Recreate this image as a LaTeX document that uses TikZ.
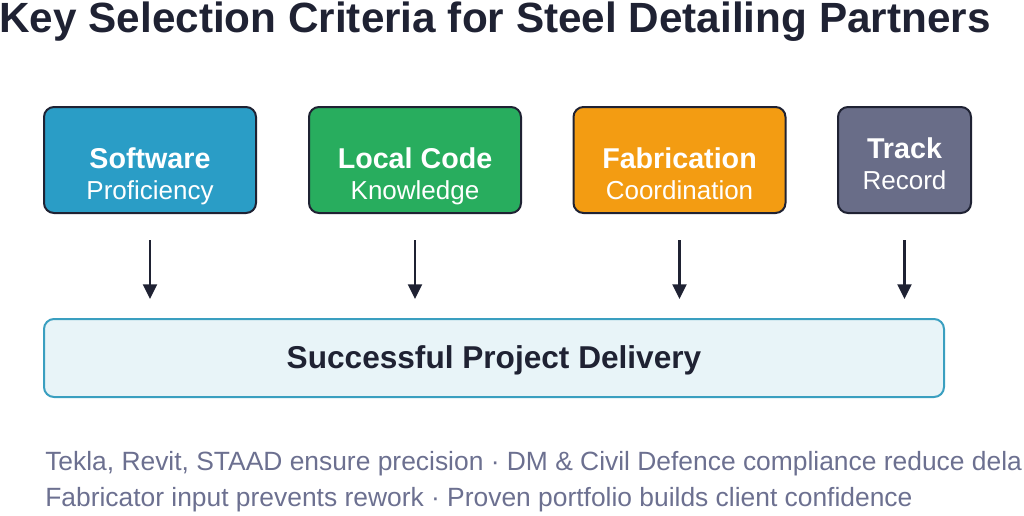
\documentclass[tikz,border=0pt]{standalone}
\usepackage{fontspec}
\setmainfont{Liberation Sans}
\usetikzlibrary{arrows.meta}
\usepackage{xcolor}
\definecolor{softblue}{HTML}{2A9DC6}
\definecolor{codegreen}{HTML}{28AD5E}
\definecolor{fabrorange}{HTML}{F39C12}
\definecolor{trackslate}{HTML}{696D88}
\definecolor{inkdark}{HTML}{1F2233}
\definecolor{delivfill}{HTML}{E8F4F8}
\definecolor{delivline}{HTML}{3A9FC0}
\definecolor{notegray}{HTML}{6C7090}

\begin{document}
\begin{tikzpicture}[x=0.75pt,y=-0.75pt]
  \tikzset{criterion/.style={draw=inkdark,line width=1.5pt,rounded corners=7.5pt,minimum width=159pt,minimum height=79.5pt,inner sep=0pt}}
  \tikzset{headtext/.style={anchor=base,text=white,font=\bfseries\fontsize{21.5}{24}\selectfont}}
  \tikzset{subtext/.style={anchor=base,text=white,font=\fontsize{19.5}{22}\selectfont}}
  \tikzset{flowarrow/.style={draw=inkdark,line width=1.6pt,-{Triangle[length=11pt,width=10.5pt]}}}
  \tikzset{notetext/.style={anchor=base west,text=notegray,font=\fontsize{19.8}{22}\selectfont,inner sep=0pt}}
  \useasboundingbox (0,0) rectangle (1024,515);
  % title
  \node[anchor=base,text=inkdark,font=\bfseries\fontsize{31.7}{36}\selectfont,inner sep=0pt] (title) at (495,32.5) {Key Selection Criteria for Steel Detailing Partners};
  % criteria boxes
  \node[criterion,fill=softblue] (soft) at (150,160) {};
  \node[criterion,fill=codegreen] (code) at (415,160) {};
  \node[criterion,fill=fabrorange] (fabr) at (679.5,160) {};
  \node[criterion,fill=trackslate,minimum width=99.75pt] (track) at (904.5,160) {};
  \node[headtext] (softA) at (150,168) {Software};
  \node[subtext] (softB) at (150,199) {Proficiency};
  \node[headtext] (codeA) at (415,168) {Local Code};
  \node[subtext] (codeB) at (415,199) {Knowledge};
  \node[headtext] (fabrA) at (679.5,168) {Fabrication};
  \node[subtext] (fabrB) at (679.5,199) {Coordination};
  \node[headtext] (trackA) at (904.5,158) {Track};
  \node[subtext] (trackB) at (904.5,189) {Record};
  % delivery box
  \node[draw=delivline,fill=delivfill,line width=1.5pt,rounded corners=7.5pt,minimum width=675pt,minimum height=58.5pt,inner sep=0pt] (deliv) at (494,358) {};
  \node[anchor=base,text=inkdark,font=\bfseries\fontsize{23.7}{26}\selectfont] (delivT) at (494,368) {Successful Project Delivery};
  % arrows
  \draw[flowarrow] ([yshift=-19.5pt]soft.south) -- ([yshift=14.25pt]soft.south |- deliv.north);
  \draw[flowarrow] ([yshift=-19.5pt]code.south) -- ([yshift=14.25pt]code.south |- deliv.north);
  \draw[flowarrow] ([yshift=-19.5pt]fabr.south) -- ([yshift=14.25pt]fabr.south |- deliv.north);
  \draw[flowarrow] ([yshift=-19.5pt]track.south) -- ([yshift=14.25pt]track.south |- deliv.north);
  % notes
  \node[notetext] (note1) at (45,470) {Tekla, Revit, STAAD ensure precision · DM \& Civil Defence compliance reduce dela};
  \node[notetext] (note2) at (45,506) {Fabricator input prevents rework · Proven portfolio builds client confidence};
\end{tikzpicture}
\end{document}
